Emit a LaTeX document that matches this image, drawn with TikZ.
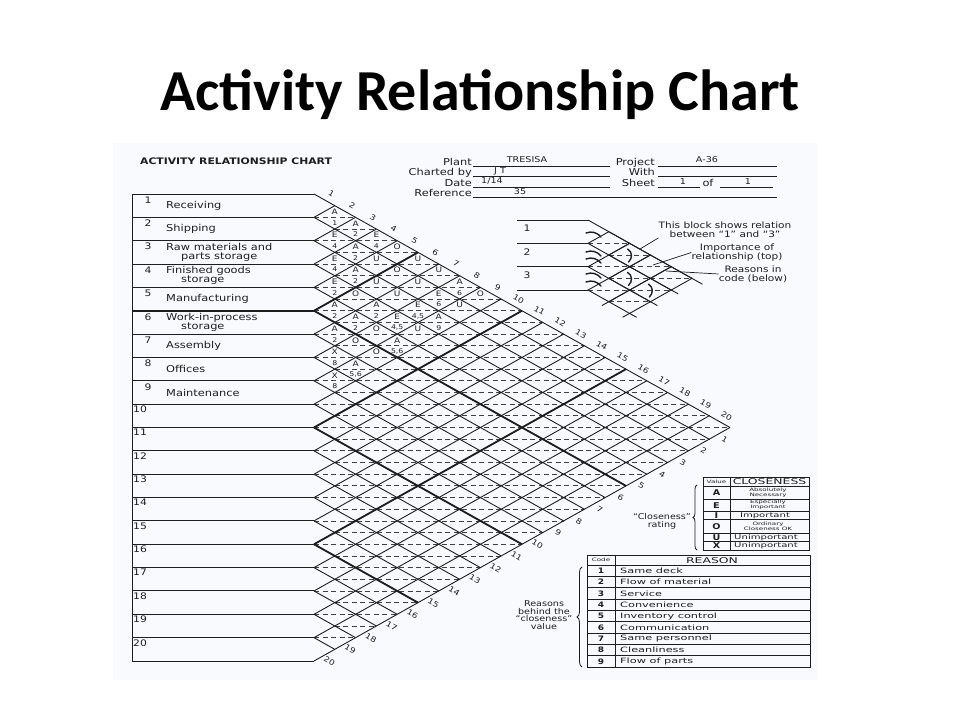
\documentclass[tikz,border=0pt]{standalone}
\usepackage{fontspec}
\setmainfont{Carlito}
\newfontfamily\chartfont[FakeStretch=1.2]{DejaVu Sans}
\newfontfamily\tablefont[FakeStretch=1.55]{DejaVu Sans}
\usetikzlibrary{calc,decorations.pathreplacing}

\definecolor{scanpaper}{RGB}{248,250,253}
\definecolor{ink}{RGB}{30,30,30}

% chart grid, in pixels of the page
\newcommand{\gridx}{314}
\newcommand{\gridy}{194}
\newcommand{\rowh}{23.35}
\newcommand{\diaw}{41.6}
% small sample block
\newcommand{\blockx}{588}
\newcommand{\blocky}{220}

\tikzset{
  grid line/.style={ink, line width=0.9pt},
  bold line/.style={ink, line width=1.8pt},
  half line/.style={ink!85, line width=0.8pt, dash pattern=on 5pt off 3.5pt},
  row line/.style={ink, line width=1pt},
  txt/.style={inner sep=0pt, text=ink},
  row label/.style={txt, anchor=west, align=left, font=\chartfont\fontsize{9.5}{9}\selectfont},
  row num/.style={txt, font=\chartfont\fontsize{9}{10}\selectfont},
  diag num/.style={txt, rotate=-30, font=\chartfont\fontsize{7.5}{8}\selectfont},
  rate mark/.style={txt, font=\chartfont\fontsize{7.5}{8}\selectfont},
  code mark/.style={txt, font=\chartfont\fontsize{6.5}{7}\selectfont},
  field label/.style={txt, anchor=base east, font=\chartfont\fontsize{9.5}{10}\selectfont},
  field value/.style={txt, anchor=base, font=\chartfont\fontsize{8}{9}\selectfont},
  note/.style={txt, align=center, font=\chartfont\fontsize{8.8}{8.6}\selectfont},
  table text/.style={txt, font=\tablefont\fontsize{7.3}{8}\selectfont},
  small desc/.style={txt, font=\tablefont\fontsize{6.5}{7}\selectfont},
  tiny text/.style={txt, align=center, font=\tablefont\fontsize{4.6}{5}\selectfont},
  mark arc/.style={ink, line width=1.4pt, line cap=round},
  leader/.style={ink, line width=0.7pt},
  side brace/.style={ink, line width=0.8pt, decorate, decoration={brace, amplitude=4pt}},
}

\begin{document}
\begin{tikzpicture}[x=1pt, y=-1pt]
  \useasboundingbox (0,0) rectangle (960,720);
  % scanned sheet
  \fill[scanpaper] (113,143) rectangle (818,680);

  % Title
  \node[anchor=base, inner sep=0pt, font=\bfseries\fontsize{58}{62}\selectfont] (title) at (480,110) {Activity Relationship Chart};

  % Form header
  \node[txt, anchor=base west, font=\chartfont\bfseries\fontsize{9}{10}\selectfont] (form) at (140,164) {ACTIVITY RELATIONSHIP CHART};
  \foreach \lab/\yy [count=\n] in {Plant/165, Charted by/175.5, Date/186, Reference/196.5}
    \node[field label] (field-\n) at (472,\yy) {\lab};
  \foreach \lab/\yy [count=\n] in {Project/165, With/175.5, Sheet/186}
    \node[field label] (rfield-\n) at (655,\yy) {\lab};
  \node[field label, anchor=base] (field-of) at (708,186) {of};
  \draw[grid line, line width=0.7pt] (473,166) -- (610,166) (473,176.5) -- (610,176.5)
    (473,187) -- (610,187) (473,197.5) -- (777,197.5)
    (658,166) -- (777,166) (658,176.5) -- (777,176.5)
    (658,187) -- (700,187) (720,187) -- (773,187);
  \node[field value] (plant-val) at (527,162.5) {TRESISA};
  \node[field value] (chart-val) at (500,173) {J T};
  \node[field value] (date-val) at (492,183.5) {1/14};
  \node[field value] (ref-val) at (520,194) {35};
  \node[field value] (proj-val) at (707,162.5) {A-36};
  \node[field value] (sheet-val) at (683,184) {1};
  \node[field value] (sheets-val) at (748,184) {1};

  % Rows on the left
  \foreach \k in {0,...,20}
    \draw[row line] (132,{\gridy+\k*\rowh}) -- (\gridx,{\gridy+\k*\rowh});
  \foreach \k in {5,10,15}
    \draw[bold line, line width=1.5pt] (132,{\gridy+\k*\rowh}) -- (\gridx,{\gridy+\k*\rowh});
  \draw[row line] (132,\gridy) -- (132,{\gridy+20*\rowh});
  \foreach \k in {1,...,9}
    \node[row num] (num-\k) at (148,{\gridy+(\k-1)*\rowh+6}) {\k};
  \foreach \k in {10,...,20}
    \node[row num, anchor=north west] (num-\k) at (133,{\gridy+(\k-1)*\rowh+1.5}) {\k};
  \foreach \k/\lab in {1/Receiving, 2/Shipping,
      3/{Raw materials and\\\hspace*{15pt}parts storage},
      4/{Finished goods\\\hspace*{15pt}storage},
      5/Manufacturing,
      6/{Work-in-process\\\hspace*{15pt}storage},
      7/Assembly, 8/Offices, 9/Maintenance}
    \node[row label] (act-\k) at (166,{\gridy+(\k-0.5)*\rowh}) {\lab};

  % Diamond grid
  \foreach \m in {2,...,38}{
    \pgfmathsetmacro{\hlstart}{mod(\m,2)*\diaw/2}
    \pgfmathsetmacro{\hlend}{min(\m,40-\m)*\diaw/2}
    \draw[half line] ({\gridx+\hlstart},{\gridy+\m*\rowh/2}) -- ({\gridx+\hlend},{\gridy+\m*\rowh/2});
  }
  \foreach \k in {0,...,20}{
    \draw[grid line] (\gridx,{\gridy+\k*\rowh}) -- ++({(20-\k)*\diaw/2},{(20-\k)*\rowh/2});
    \draw[grid line] (\gridx,{\gridy+\k*\rowh}) -- ++({\k*\diaw/2},{-\k*\rowh/2});
  }
  \foreach \k in {5,10,15}{
    \draw[bold line] (\gridx,{\gridy+\k*\rowh}) -- ++({(20-\k)*\diaw/2},{(20-\k)*\rowh/2});
    \draw[bold line] (\gridx,{\gridy+\k*\rowh}) -- ++({\k*\diaw/2},{-\k*\rowh/2});
  }
  % numbers along the two edges
  \foreach \k in {1,...,20}{
    \node[diag num] (top-\k) at ({\gridx+(\k-0.5)*\diaw/2+7},{\gridy+(\k-0.5)*\rowh/2-6}) {\k};
    \node[diag num] (bot-\k) at ({\gridx+(20.5-\k)*\diaw/2+5},{\gridy+20*\rowh-(20.5-\k)*\rowh/2+6}) {\k};
  }

  % Ratings and reasons
  \foreach \i/\j/\rate/\why in {1/2/A/1, 1/3/A/2, 1/4/E/4, 1/5/O/{}, 1/6/U/{}, 1/7/U/{},
      1/8/A/6, 1/9/O/{}, 2/3/E/4, 2/4/A/2, 2/5/U/{}, 2/6/O/{}, 2/7/U/{}, 2/8/E/6,
      2/9/U/{}, 3/4/E/4, 3/5/A/2, 3/6/U/{}, 3/7/U/{}, 3/8/E/{4,5}, 3/9/A/9,
      4/5/E/2, 4/6/O/{}, 4/7/A/2, 4/8/E/{4,5}, 4/9/U/{}, 5/6/A/2, 5/7/A/2,
      5/8/O/{}, 5/9/A/{5,6}, 6/7/A/2, 6/8/O/{}, 6/9/O/{}, 7/8/X/8, 7/9/A/{5,6}, 8/9/X/8}{
    \node[rate mark] (rate-\i-\j) at ({\gridx+(\j-\i)*\diaw/2},{\gridy+(\i+\j-1)*\rowh/2-5.5}) {\rate};
    \node[code mark] (why-\i-\j) at ({\gridx+(\j-\i)*\diaw/2},{\gridy+(\i+\j-1)*\rowh/2+5.5}) {\why};
  }

  % Sample block
  \foreach \k in {0,...,3}
    \draw[row line] (517,{\blocky+\k*\rowh}) -- (\blockx,{\blocky+\k*\rowh});
  \foreach \k in {1,2,3}
    \node[row num] (blk-\k) at (527,{\blocky+(\k-0.5)*\rowh-3}) {\k};
  \foreach \i/\j in {1/2,1/3,1/4,1/5,2/3,2/4,2/5,3/4,3/5}{
    \coordinate (c) at ({\blockx+(\j-\i)*\diaw/2},{\blocky+(\i+\j-1)*\rowh/2});
    \draw[half line] ($(c)+(-\diaw/2,0)$) -- ($(c)+(\diaw/2,0)$);
    \draw[grid line] ($(c)+(-\diaw/2,0)$) -- ($(c)+(0,-\rowh/2)$) -- ($(c)+(\diaw/2,0)$)
      -- ($(c)+(0,\rowh/2)$) -- cycle;
  }
  \draw[grid line] (\blockx,\blocky) -- ++({2.75*\diaw},{2.75*\rowh});
  \draw[grid line] (608.8,301.7) -- ++(-7,3.9) (629.6,313.4) -- ++(-7,3.9)
    (629.6,313.4) -- ++(7,3.9) (650.4,301.7) -- ++(7,3.9) (671.2,290) -- ++(7,3.9);
  \foreach \yy in {233,252,259,274,282}
    \draw[mark arc] (586,\yy) to[bend left=35] (601,{\yy+4});
  \foreach \cx/\cy in {629.6/255, 629.6/278.4, 650.4/290}
    \draw[mark arc] ({\cx-2},{\cy-6}) .. controls ({\cx+3},{\cy-3}) and ({\cx+3},{\cy+3}) .. ({\cx-1},{\cy+7});
  \node[note] (note-block) at (725,230) {This block shows relation\\between “1” and “3”};
  \node[note] (note-top) at (737,252.5) {Importance of\\relationship (top)};
  \node[note] (note-code) at (753,274) {Reasons in\\code (below)};
  \coordinate (blk-13) at (640,249);
  \coordinate (blk-14) at (653,265);
  \coordinate (blk-15) at (666,271);
  \draw[leader] (note-block.south west) -- (blk-13);
  \draw[leader] (note-top.west) -- (blk-14);
  \draw[leader] (note-code.west) -- (blk-15);

  % Closeness table
  \draw[row line] (703,477) rectangle (809,550);
  \draw[row line] (730,477) -- (730,550);
  \foreach \yy in {486,499,511.5,519,533.5,541.5}
    \draw[row line, line width=0.8pt] (703,\yy) -- (809,\yy);
  \node[tiny text] (value-head) at (716.5,481.5) {Value};
  \node[table text, font=\tablefont\fontsize{8}{9}\selectfont] (close-head) at (769.5,481.8) {CLOSENESS};
  \foreach \v/\yy [count=\n] in {A/492.5, E/505.2, I/515.2, O/526.2, U/537.5, X/545.8}
    \node[txt, font=\chartfont\bfseries\fontsize{8}{9}\selectfont] (val-\n) at (716.5,\yy) {\v};
  \node[tiny text] (desc-1) at (768,492.5) {Absolutely\\Necessary};
  \node[tiny text] (desc-2) at (768,505.2) {Especially\\Important};
  \node[small desc] (desc-3) at (765,515.4) {Important};
  \node[tiny text] (desc-4) at (768,526.2) {Ordinary\\Closeness OK};
  \node[small desc] (desc-5) at (766,537.7) {Unimportant};
  \node[small desc] (desc-6) at (766,546) {Unimportant};
  \draw[side brace] (697,550) -- (697,485);
  \node[note, font=\chartfont\fontsize{8}{8.5}\selectfont] (close-note) at (662,521.5) {“Closeness”\\rating};

  % Reason table
  \draw[row line] (587,555) rectangle (810,667);
  \draw[row line] (615,555) -- (615,667);
  \draw[row line, line width=0.8pt] (587,565) -- (810,565);
  \node[tiny text] (code-head) at (601,560) {Code};
  \node[table text, font=\tablefont\fontsize{8}{9}\selectfont] (reason-head) at (712,560.3) {REASON};
  \foreach \r/\why [count=\n] in {1/Same deck, 2/Flow of material, 3/Service, 4/Convenience,
      5/Inventory control, 6/Communication, 7/Same personnel, 8/Cleanliness, 9/Flow of parts}{
    \draw[row line, line width=0.8pt] (587,{565+\n*11.33}) -- (810,{565+\n*11.33});
    \node[table text, font=\chartfont\bfseries\fontsize{7.5}{8}\selectfont] (code-\n) at (601,{565+(\n-0.5)*11.33}) {\r};
    \node[table text, anchor=west] (reason-\n) at (620,{565+(\n-0.5)*11.33}) {\why};
  }
  \draw[side brace, decoration={brace, amplitude=5pt}] (582,667) -- (582,567);
  \node[note, font=\chartfont\fontsize{8}{7.7}\selectfont] (reason-note) at (544,615) {Reasons\\behind the\\“closeness”\\value};
\end{tikzpicture}
\end{document}
